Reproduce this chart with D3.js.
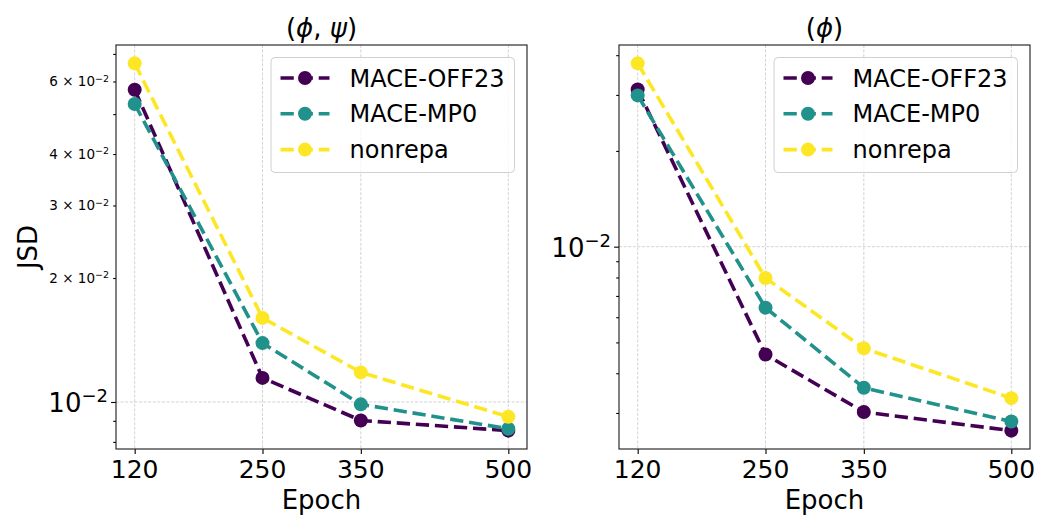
<!DOCTYPE html>
<html>
<head>
<meta charset="utf-8">
<script src="https://cdn.jsdelivr.net/npm/d3@7"></script>
<style>
  html, body { margin: 0; padding: 0; background: #ffffff; }
  svg { display: block; font-family: "DejaVu Sans", sans-serif; }
</style>
</head>
<body>
<svg id="chart" width="1039" height="517"></svg>
<script>
// ---- data -------------------------------------------------------------
const epochs = [120, 250, 350, 500];
const seriesNames = ["MACE-OFF23", "MACE-MP0", "nonrepa"];
const seriesColors = ["#440154", "#21918c", "#fde725"];

// JSD on the (phi, psi) joint distribution
const phiPsiOff23   = [0.0573, 0.01144, 0.00902, 0.00852];
const phiPsiMp0     = [0.0529, 0.0139, 0.00987, 0.00861];
const phiPsiNonrepa = [0.0664, 0.0160, 0.0118, 0.00921];

// JSD on the phi marginal
const phiOff23   = [0.0312, 0.00458, 0.00302, 0.00264];
const phiMp0     = [0.0299, 0.00643, 0.00360, 0.00282];
const phiNonrepa = [0.0377, 0.00797, 0.00479, 0.00334];

const xTickLabels = ["120", "250", "350", "500"];
const leftLabelledMinor = [2, 3, 4, 6];   // mantissas that get a small label
const rightLabelledMinor = [];

// ---- layout -----------------------------------------------------------
const svg = d3.select("#chart");
const plotTop = 45, plotBottom = 449;
const lineWidth = 3.6, dash = "13.3,5.8", markerR = 7;

function sup(textSel, base, exp, size, supSize, raise) {
  textSel.append("tspan").text(base).attr("font-size", size);
  textSel.append("tspan").text(exp).attr("font-size", supSize).attr("dy", -raise);
}

function drawPanel(opt) {
  const g = svg.append("g");
  const x = d3.scaleLinear()
    .domain([epochs[0] - 0.05 * (epochs[3] - epochs[0]), epochs[3] + 0.05 * (epochs[3] - epochs[0])])
    .range([opt.left, opt.right]);

  const all = opt.series.flat();
  const lo = Math.log10(d3.min(all)), hi = Math.log10(d3.max(all));
  const pad = 0.05 * (hi - lo);
  const y = d3.scaleLog().domain([Math.pow(10, lo - pad), Math.pow(10, hi + pad)]).range([plotBottom, plotTop]);

  // tick values for the log axis
  const [d0, d1] = y.domain();
  const majors = [], minors = [];
  for (let e = Math.floor(Math.log10(d0)); e <= Math.ceil(Math.log10(d1)); e++) {
    for (let m = 1; m <= 9; m++) {
      const v = m * Math.pow(10, e);
      if (v < d0 || v > d1) continue;
      (m === 1 ? majors : minors).push({ v, m, e });
    }
  }

  // grid
  const grid = g.append("g").attr("stroke", "#b0b0b0").attr("stroke-opacity", 0.7)
    .attr("stroke-width", 0.8).attr("stroke-dasharray", "3,1.6");
  grid.selectAll("line.gx").data(epochs).join("line")
    .attr("x1", d => x(d)).attr("x2", d => x(d)).attr("y1", plotTop).attr("y2", plotBottom);
  grid.selectAll("line.gy").data(majors).join("line")
    .attr("x1", opt.left).attr("x2", opt.right).attr("y1", d => y(d.v)).attr("y2", d => y(d.v));

  // axes (tick marks only; labels are set as math-style text below)
  const xAxis = d3.axisBottom(x).tickValues(epochs).tickFormat("").tickSizeOuter(0).tickSizeInner(4.9);
  const gx = g.append("g").attr("transform", `translate(0,${plotBottom})`).call(xAxis);
  const yMajor = d3.axisLeft(y).tickValues(majors.map(d => d.v)).tickFormat("").tickSizeOuter(0).tickSizeInner(4.9);
  const yMinor = d3.axisLeft(y).tickValues(minors.map(d => d.v)).tickFormat("").tickSizeOuter(0).tickSizeInner(2.8);
  const gy1 = g.append("g").attr("transform", `translate(${opt.left},0)`).call(yMajor);
  const gy2 = g.append("g").attr("transform", `translate(${opt.left},0)`).call(yMinor);
  [gx, gy1, gy2].forEach(a => {
    a.select(".domain").remove();
    a.selectAll(".tick line").attr("stroke", "#000").attr("stroke-width", 1.1);
  });

  // x tick labels
  g.selectAll("text.xt").data(epochs).join("text")
    .attr("x", d => x(d)).attr("y", plotBottom + 29)
    .attr("text-anchor", "middle").attr("font-size", 25).attr("fill", "#000")
    .text((d, i) => xTickLabels[i]);

  // y tick labels
  majors.forEach(d => {
    const t = g.append("text").attr("x", opt.left - 8).attr("y", y(d.v) + 10)
      .attr("text-anchor", "end").attr("fill", "#000");
    sup(t, "10", "\u2212" + Math.abs(d.e), 26, 18, 10);
  });
  minors.filter(d => opt.labelledMinor.includes(d.m)).forEach(d => {
    const t = g.append("text").attr("x", opt.left - 7).attr("y", y(d.v) + 4.8)
      .attr("text-anchor", "end").attr("fill", "#000");
    sup(t, d.m + " \u00d7 10", "\u2212" + Math.abs(d.e), 13.5, 9.5, 4.5);
  });

  // series
  const line = d3.line().x((d, i) => x(epochs[i])).y(d => y(d));
  opt.series.forEach((vals, k) => {
    g.append("path").datum(vals).attr("d", line)
      .attr("fill", "none").attr("stroke", seriesColors[k]).attr("stroke-width", lineWidth)
      .attr("stroke-dasharray", dash);
    g.selectAll(null).data(vals).join("circle")
      .attr("cx", (d, i) => x(epochs[i])).attr("cy", d => y(d)).attr("r", markerR)
      .attr("fill", seriesColors[k]);
  });

  // frame
  g.append("rect").attr("x", opt.left).attr("y", plotTop)
    .attr("width", opt.right - opt.left).attr("height", plotBottom - plotTop)
    .attr("fill", "none").attr("stroke", "#1a1a1a").attr("stroke-width", 1.1);

  // title
  const tt = g.append("text").attr("x", (opt.left + opt.right) / 2).attr("y", 37)
    .attr("text-anchor", "middle").attr("font-size", 26).attr("fill", "#000");
  opt.title.forEach(p => tt.append("tspan").text(p.t).attr("font-style", p.i ? "italic" : "normal"));

  // x label
  g.append("text").attr("x", (opt.left + opt.right) / 2).attr("y", 509)
    .attr("text-anchor", "middle").attr("font-size", 26).attr("fill", "#000").text("Epoch");

  // legend
  const lg = g.append("g");
  const lx = opt.right - 256, ly = 57.5;
  lg.append("rect").attr("x", lx).attr("y", ly).attr("width", 243.5).attr("height", 115)
    .attr("rx", 4).attr("fill", "#fff").attr("fill-opacity", 0.8)
    .attr("stroke", "#d0d0d0").attr("stroke-width", 1);
  seriesNames.forEach((name, k) => {
    const cy = ly + 20.5 + k * 35.8;
    lg.append("line").attr("x1", lx + 9.5).attr("x2", lx + 58.5).attr("y1", cy).attr("y2", cy)
      .attr("stroke", seriesColors[k]).attr("stroke-width", lineWidth).attr("stroke-dasharray", dash);
    lg.append("circle").attr("cx", lx + 34).attr("cy", cy).attr("r", markerR).attr("fill", seriesColors[k]);
    lg.append("text").attr("x", lx + 78.5).attr("y", cy + 8.5).attr("font-size", 24)
      .attr("fill", "#000").text(name);
  });
  return { x, y };
}

drawPanel({
  left: 116, right: 527,
  series: [phiPsiOff23, phiPsiMp0, phiPsiNonrepa],
  labelledMinor: leftLabelledMinor,
  title: [{ t: "(" }, { t: "\u03d5", i: true }, { t: ", " }, { t: "\u03c8", i: true }, { t: ")" }]
});
drawPanel({
  left: 619, right: 1030,
  series: [phiOff23, phiMp0, phiNonrepa],
  labelledMinor: rightLabelledMinor,
  title: [{ t: "(" }, { t: "\u03d5", i: true }, { t: ")" }]
});

// shared y label
svg.append("text").attr("transform", "translate(37,247) rotate(-90)")
  .attr("text-anchor", "middle").attr("font-size", 26).attr("fill", "#000").text("JSD");
</script>
</body>
</html>
